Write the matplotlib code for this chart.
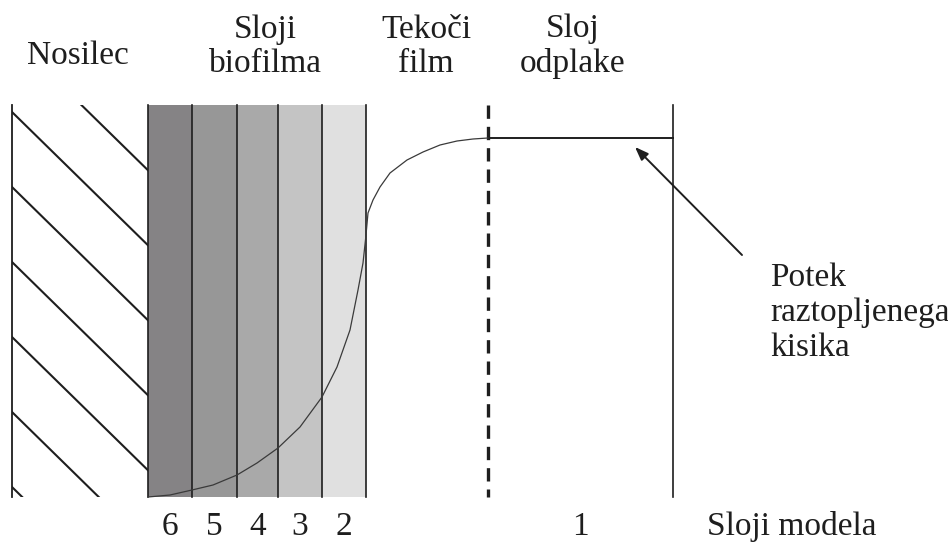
import matplotlib
matplotlib.use("Agg")
import matplotlib.pyplot as plt
from matplotlib.patches import Rectangle

# diagram geometry in pixel units (x right, y down)
top_y, bottom_y = 105, 497
support_x = [12, 148]
hatch_y0 = [37, 112, 187, 262, 337, 412, 487]  # hatch line heights at the left edge
hatch_slope = 0.98

layer_ids = ["6", "5", "4", "3", "2"]
layer_edges = [148, 192, 237, 278, 322, 366]
layer_grays = ["#858385", "#979797", "#a9a9a9", "#c4c4c4", "#e0e0e0"]

film_edge_x = 488      # dashed boundary
bulk_edge_x = 673      # right side of bulk layer
bulk_level_y = 138     # dissolved oxygen in bulk liquid

# dissolved oxygen profile
curve_x = [148, 170, 192, 213, 237, 257, 278, 300, 322, 337, 350, 358, 363, 366,
           368, 373, 380, 390, 407, 423, 440, 457, 473, 488]
curve_y = [497, 495, 490, 485, 475, 463, 448, 427, 397, 367, 330, 290, 263, 235,
           213, 200, 187, 173, 160, 152, 145, 141, 139, 138]

top_labels = ["Nosilec", "Sloji\nbiofilma", "Tekoči\nfilm", "Sloj\nodplake"]
top_label_x = [78, 265, 426, 573]
top_label_y = [64, 72, 72, 72]   # baseline of the last line

arrow_tail = (742, 255)
arrow_tip = (635, 147)

ink = "#1e1e1e"
fs = 24

fig = plt.figure(figsize=(9.48, 5.43), dpi=100)
ax = fig.add_axes([0, 0, 1, 1])
ax.set_xlim(0, 948)
ax.set_ylim(543, 0)
ax.axis("off")
plt.rcParams["font.family"] = ["Liberation Serif", "DejaVu Serif"]

# support with diagonal hatching
ax.plot([support_x[0]] * 2, [top_y, bottom_y], color=ink, lw=1.3)
clip = Rectangle((support_x[0], top_y), support_x[1] - support_x[0], bottom_y - top_y,
                 transform=ax.transData, fill=False, lw=0)
ax.add_patch(clip)
for y0 in hatch_y0:
    x1 = support_x[1]
    (ln,) = ax.plot([support_x[0], x1], [y0, y0 + hatch_slope * (x1 - support_x[0])],
                    color=ink, lw=1.5)
    ln.set_clip_path(clip)

# biofilm layers
for i, g in enumerate(layer_grays):
    ax.add_patch(Rectangle((layer_edges[i], top_y), layer_edges[i + 1] - layer_edges[i],
                           bottom_y - top_y, facecolor=g, edgecolor="none", zorder=1))
for x in layer_edges:
    ax.plot([x, x], [top_y, bottom_y], color=ink, lw=1.2, zorder=2)

# liquid film boundary and bulk layer
ax.plot([film_edge_x] * 2, [top_y, bottom_y], color=ink, lw=2.4, dashes=(4.0, 2.4), zorder=2)
ax.plot([bulk_edge_x] * 2, [top_y, bottom_y], color=ink, lw=1.2, zorder=2)
ax.plot([film_edge_x, bulk_edge_x], [bulk_level_y] * 2, color=ink, lw=1.4, zorder=2)

# oxygen profile
ax.plot(curve_x, curve_y, color="#3a3a3a", lw=0.9, zorder=3)

# arrow and its label
ax.annotate("", xy=arrow_tip, xytext=arrow_tail,
            arrowprops=dict(arrowstyle="-|>,head_length=0.8,head_width=0.3",
                            color=ink, lw=1.4, shrinkA=0, shrinkB=0))
ax.text(770, 356, "Potek\nraztopljenega\nkisika", fontsize=fs, color=ink,
        ha="left", va="baseline", linespacing=1.2)

# headings
for lab, x, y in zip(top_labels, top_label_x, top_label_y):
    ax.text(x, y, lab, fontsize=fs, color=ink, ha="center", va="baseline",
            multialignment="center", linespacing=1.16)

# model layer numbers
num_y = 535
for i, lab in enumerate(layer_ids):
    ax.text((layer_edges[i] + layer_edges[i + 1]) / 2, num_y, lab, fontsize=fs,
            color=ink, ha="center", va="baseline")
ax.text((film_edge_x + bulk_edge_x) / 2, num_y, "1", fontsize=fs, color=ink,
        ha="center", va="baseline")
ax.text(707, num_y, "Sloji modela", fontsize=fs, color=ink, ha="left", va="baseline")

fig.savefig("out.png", dpi=100, facecolor="white")
